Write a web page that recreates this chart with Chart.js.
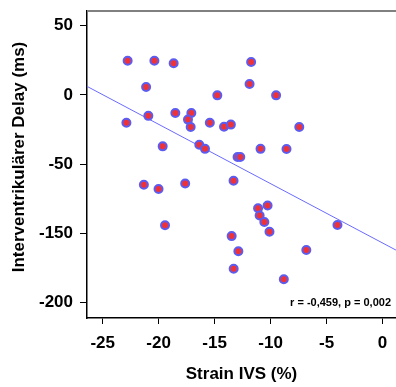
<!DOCTYPE html>
<html>
<head>
<meta charset="utf-8">
<script src="https://cdn.jsdelivr.net/npm/chart.js@4"></script>
<style>
  html, body { margin: 0; padding: 0; background: #fff; }
  #wrap { width: 396px; height: 387px; }
</style>
</head>
<body>
<div id="wrap"><canvas id="chart" width="396" height="387"></canvas></div>
<script>
// ================================
// Data
// ================================
const strainIVS = [
  -22.77, -20.38, -18.66, -21.12, -22.88, -20.92, -18.51, -17.08, -17.38, -17.14,
  -19.64, -16.37, -15.86, -11.74, -11.88, -14.76, -9.51, -15.43, -14.16, -13.55,
  -10.90, -8.58, -12.95, -12.71, -7.44, -21.32, -20.01, -17.63, -19.43, -13.31,
  -11.12, -10.27, -10.98, -10.56, -10.10, -13.48, -12.88, -13.30, -8.82, -4.03,
  -6.81
];
const delayMs = [
  24.7, 24.7, 22.9, 5.8, -20.0, -15.1, -13.0, -13.0, -17.8, -23.1,
  -37.1, -36.0, -38.9, 23.8, 7.9, -0.3, -0.3, -20.0, -23.0, -21.4,
  -38.9, -39.0, -44.8, -44.8, -23.1, -64.8, -67.9, -63.9, -94.0, -61.9,
  -81.8, -79.8, -87.0, -91.7, -98.7, -101.9, -112.8, -125.4, -133.0, -93.9,
  -111.9
];

// regression line (end points at the plot edges)
const fitX = [-26.4, 1.2];
const fitY = [6.2, -112.0];

const xTicks = [-25, -20, -15, -10, -5, 0];
const yTicks = [50, 0, -50, -100, -150];
const yTickLabels = ["50", "0", "-50", "-150", "-200"];

const xTitle = "Strain IVS (%)";
const yTitle = "Interventrikulärer Delay (ms)";
const statText = "r = -0,459, p = 0,002";

// ================================
// Helpers
// ================================
const FONT = "'Liberation Sans', Arial, sans-serif";
const points = strainIVS.map((x, i) => ({ x: x, y: delayMs[i] }));
const fitLine = fitX.map((x, i) => ({ x: x, y: fitY[i] }));

// extra drawing: top frame, y title, statistic text
const extras = {
  id: "extras",
  afterDraw(chart) {
    const { ctx, chartArea } = chart;
    ctx.save();
    ctx.strokeStyle = "#808080";
    ctx.lineWidth = 2;
    ctx.beginPath();
    ctx.moveTo(chartArea.left, chartArea.top);
    ctx.lineTo(chartArea.right, chartArea.top);
    ctx.stroke();

    ctx.fillStyle = "#000";
    ctx.font = "bold 17px " + FONT;
    ctx.textAlign = "center";
    ctx.textBaseline = "middle";
    ctx.translate(19, 157);
    ctx.rotate(-Math.PI / 2);
    ctx.fillText(yTitle, 0, 0);
    ctx.restore();

    ctx.save();
    ctx.fillStyle = "#000";
    ctx.font = "bold 11px " + FONT;
    ctx.textAlign = "right";
    ctx.textBaseline = "middle";
    ctx.fillText(statText, chartArea.right - 5, chartArea.bottom - 15);
    ctx.restore();
  }
};

// ================================
// CHART
// ================================
new Chart(document.getElementById("chart"), {
  type: "scatter",
  data: {
    datasets: [
      {
        data: points,
        pointRadius: 4,
        pointBorderWidth: 2,
        pointBackgroundColor: "#ee3338",
        pointBorderColor: "#5c5cf0",
        order: 1
      },
      {
        type: "line",
        data: fitLine,
        showLine: true,
        borderColor: "#6a6aff",
        borderWidth: 1,
        pointRadius: 0,
        fill: false,
        order: 2
      }
    ]
  },
  options: {
    responsive: false,
    devicePixelRatio: 1,
    animation: false,
    layout: { autoPadding: false, padding: { top: 11, left: 0, right: 0, bottom: 0 } },
    plugins: { legend: { display: false }, tooltip: { enabled: false } },
    scales: {
      x: {
        type: "linear",
        min: -26.4,
        max: 1.2,
        afterBuildTicks: (s) => { s.ticks = xTicks.map((v) => ({ value: v })); },
        afterFit: (s) => { s.height = 69; s.paddingLeft = 0; s.paddingRight = 0; },
        border: { color: "#000", width: 1.5 },
        grid: { drawOnChartArea: false, drawTicks: true, tickLength: 6, color: "#000" },
        ticks: { padding: 9, color: "#000", font: { family: FONT, size: 17, weight: "bold" } },
        title: {
          display: true,
          text: xTitle,
          color: "#000",
          padding: { top: 0, bottom: 2 },
          font: { family: FONT, size: 17, weight: "bold" }
        }
      },
      y: {
        type: "linear",
        min: -161,
        max: 60.6,
        afterBuildTicks: (s) => { s.ticks = yTicks.map((v) => ({ value: v })); },
        afterFit: (s) => { s.width = 87; s.paddingTop = 0; s.paddingBottom = 0; },
        border: { color: "#000", width: 1.5 },
        grid: { drawOnChartArea: false, drawTicks: true, tickLength: 7, color: "#000" },
        ticks: {
          padding: 7,
          color: "#000",
          font: { family: FONT, size: 17, weight: "bold" },
          callback: (v) => {
            const i = yTicks.indexOf(v);
            return i >= 0 ? yTickLabels[i] : "";
          }
        }
      }
    }
  },
  plugins: [extras]
});
</script>
</body>
</html>
